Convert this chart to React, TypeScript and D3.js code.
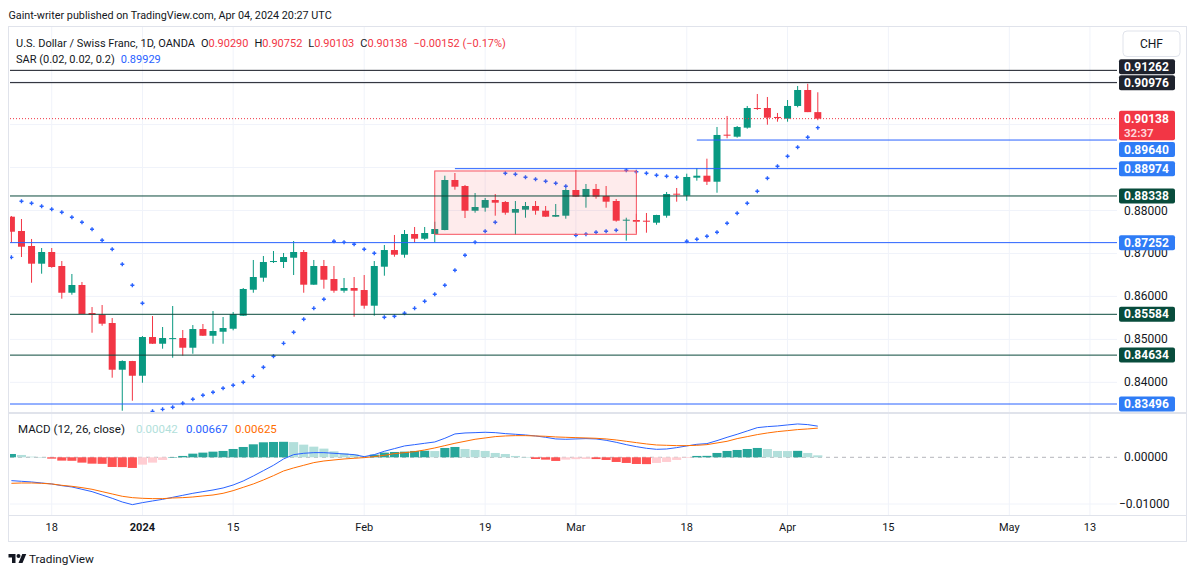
import { useEffect } from "react";
import * as d3 from "d3";

// ---------------------------------------------------------------------------
// Data
// ---------------------------------------------------------------------------

const FIRST_SESSION = "2023-12-12";
const HOLIDAYS = ["2023-12-25", "2024-01-01"];

// [open, high, low, close]
const OHLC: [number, number, number, number][] = [
  [0.87856, 0.87872, 0.8725, 0.87506], [0.87523, 0.87802, 0.86917, 0.87157],
  [0.87174, 0.87337, 0.86319, 0.86762], [0.86762, 0.87127, 0.86529, 0.87034],
  [0.87034, 0.87127, 0.86668, 0.86685], [0.86708, 0.86824, 0.85947, 0.86086],
  [0.86086, 0.86522, 0.8604, 0.86266], [0.86266, 0.86336, 0.85588, 0.85591],
  [0.85614, 0.85753, 0.85155, 0.85574], [0.8558, 0.858, 0.85318, 0.85365],
  [0.85381, 0.85497, 0.84108, 0.84294], [0.84294, 0.84513, 0.83339, 0.84496],
  [0.84496, 0.845, 0.83572, 0.84154], [0.84154, 0.85078, 0.83991, 0.85055],
  [0.85055, 0.85544, 0.84895, 0.84899], [0.84899, 0.85288, 0.84783, 0.85032],
  [0.85016, 0.85777, 0.84573, 0.8503], [0.85032, 0.85218, 0.8462, 0.84806],
  [0.84806, 0.85334, 0.84666, 0.85241], [0.85241, 0.85358, 0.8508, 0.85085],
  [0.85085, 0.8566, 0.84899, 0.85195], [0.85178, 0.85521, 0.84899, 0.85265],
  [0.85248, 0.85637, 0.85211, 0.85584], [0.85551, 0.86196, 0.85545, 0.86173],
  [0.86156, 0.86848, 0.86086, 0.86452], [0.86436, 0.86941, 0.86342, 0.86801],
  [0.86801, 0.87057, 0.86778, 0.86824], [0.86801, 0.87011, 0.86661, 0.86917],
  [0.86901, 0.8729, 0.86498, 0.87034], [0.87034, 0.8708, 0.86086, 0.86273],
  [0.86273, 0.86848, 0.8627, 0.86708], [0.86708, 0.86848, 0.8618, 0.86389],
  [0.86405, 0.86708, 0.86086, 0.86133], [0.86133, 0.86429, 0.86086, 0.86196],
  [0.86196, 0.86452, 0.85528, 0.86133], [0.86149, 0.86498, 0.85714, 0.85784],
  [0.85784, 0.86824, 0.85551, 0.86708], [0.86692, 0.87197, 0.86482, 0.8708],
  [0.8708, 0.8743, 0.86924, 0.86971], [0.86971, 0.87546, 0.86901, 0.87453],
  [0.87453, 0.87616, 0.8725, 0.87344], [0.87344, 0.87616, 0.87313, 0.87476],
  [0.87453, 0.87739, 0.8726, 0.87569], [0.87546, 0.8881, 0.8754, 0.8871],
  [0.8871, 0.88873, 0.88484, 0.88554], [0.8857, 0.88594, 0.87825, 0.87995],
  [0.87995, 0.88407, 0.87949, 0.88081], [0.88065, 0.88291, 0.87972, 0.88244],
  [0.88244, 0.88384, 0.87879, 0.88182], [0.88198, 0.88221, 0.87902, 0.87949],
  [0.87949, 0.88221, 0.87437, 0.88035], [0.88019, 0.88198, 0.87832, 0.88105],
  [0.88105, 0.88221, 0.87902, 0.87995], [0.87995, 0.88105, 0.8785, 0.87856],
  [0.87856, 0.88151, 0.8785, 0.87895], [0.87879, 0.88517, 0.87809, 0.88477],
  [0.88477, 0.88943, 0.88315, 0.88321], [0.88321, 0.88617, 0.88065, 0.88501],
  [0.88501, 0.88617, 0.88275, 0.88321], [0.88338, 0.8857, 0.88065, 0.88205],
  [0.88221, 0.88268, 0.87739, 0.87763], [0.87763, 0.87832, 0.87297, 0.87786],
  [0.87779, 0.87926, 0.87483, 0.87739], [0.87763, 0.87942, 0.87483, 0.87739],
  [0.87716, 0.879, 0.87669, 0.87895], [0.87879, 0.88431, 0.87832, 0.88384],
  [0.88391, 0.88524, 0.88205, 0.88377], [0.88345, 0.88857, 0.88228, 0.8878],
  [0.88764, 0.88989, 0.88694, 0.8881], [0.8881, 0.89206, 0.88594, 0.8867],
  [0.8867, 0.89944, 0.88414, 0.89758], [0.89765, 0.902, 0.89681, 0.89741],
  [0.89718, 0.89967, 0.89695, 0.89944], [0.89928, 0.90433, 0.89904, 0.90386],
  [0.90386, 0.90712, 0.9034, 0.90363], [0.90386, 0.90642, 0.89997, 0.9016],
  [0.90177, 0.9027, 0.90067, 0.90153], [0.90137, 0.90572, 0.90067, 0.90433],
  [0.90433, 0.90898, 0.90402, 0.90805], [0.90805, 0.9095, 0.9029, 0.9029],
  [0.9029, 0.90752, 0.90103, 0.90138],
];

const SAR = [
  0.8691, 0.88214, 0.88168, 0.88098, 0.88028, 0.87958, 0.87842, 0.87725, 0.87562, 0.87306,
  0.87097, 0.86748, 0.86259, 0.8584, 0.83325, 0.83372, 0.83419, 0.83512, 0.83605, 0.83698,
  0.83768, 0.83861, 0.83931, 0.84001, 0.8414, 0.8435, 0.84606, 0.84908, 0.85165, 0.85467,
  0.85723, 0.85933, 0.87283, 0.8726, 0.87213, 0.87097, 0.87004, 0.85514, 0.85537, 0.85607,
  0.85723, 0.85886, 0.86049, 0.86259, 0.86608, 0.86957, 0.8726, 0.87516, 0.87725, 0.88866,
  0.88843, 0.88773, 0.88726, 0.8868, 0.88633, 0.88563, 0.87423, 0.87446, 0.87492, 0.87516,
  0.87539, 0.88936, 0.88903, 0.88866, 0.88819, 0.88796, 0.88773, 0.87283, 0.8733, 0.87399,
  0.87492, 0.87702, 0.87935, 0.88168, 0.88447, 0.8875, 0.89029, 0.89262, 0.89471, 0.89704,
  0.89929,
];

const MACD_LINE = [
  -0.005, -0.00514, -0.00528, -0.0055, -0.00571, -0.00607, -0.00635, -0.00685, -0.00735, -0.00807,
  -0.00878, -0.00957, -0.01014, -0.00971, -0.00935, -0.009, -0.00857, -0.00814, -0.00771, -0.00735,
  -0.007, -0.00657, -0.00593, -0.00507, -0.004, -0.00286, -0.00171, -0.00036, 0.00057, 0.00086,
  0.001, 0.001, 0.00086, 0.00071, 0.00057, 0.00014, 0.00057, 0.00129, 0.00186, 0.00243,
  0.00271, 0.003, 0.00328, 0.00407, 0.005, 0.00521, 0.00528, 0.00536, 0.00528, 0.00507,
  0.00493, 0.00478, 0.00457, 0.00428, 0.00393, 0.00386, 0.00393, 0.004, 0.00393, 0.00364,
  0.00321, 0.00271, 0.00228, 0.00193, 0.00171, 0.00178, 0.00207, 0.00243, 0.00278, 0.00293,
  0.00357, 0.00428, 0.00493, 0.00564, 0.00635, 0.00657, 0.00671, 0.00693, 0.00714, 0.007,
  0.00667,
];

const SIGNAL_LINE = [
  -0.00557, -0.0055, -0.0055, -0.00557, -0.00571, -0.006, -0.00621, -0.0065, -0.00685, -0.00735,
  -0.00785, -0.00835, -0.00864, -0.00878, -0.00885, -0.00885, -0.00871, -0.00864, -0.0085, -0.00828,
  -0.00807, -0.00771, -0.00714, -0.00643, -0.00571, -0.00486, -0.00393, -0.00293, -0.00228, -0.00171,
  -0.00114, -0.00079, -0.00057, -0.00036, -0.00021, -0.00007, 0.00014, 0.00043, 0.00079, 0.001,
  0.00121, 0.00157, 0.002, 0.0025, 0.003, 0.00343, 0.00386, 0.00414, 0.00443, 0.00457,
  0.00464, 0.00464, 0.00457, 0.0045, 0.00436, 0.00428, 0.00421, 0.00414, 0.00407, 0.00393,
  0.00371, 0.00343, 0.00314, 0.00286, 0.00264, 0.00257, 0.0025, 0.0025, 0.00257, 0.00271,
  0.00307, 0.00343, 0.004, 0.00443, 0.00486, 0.00521, 0.0055, 0.00571, 0.00593, 0.00607,
  0.00625,
];

const HISTOGRAM = [
  0.00071, 0.0005, 0.00014, 0.00005, -0.00029, -0.00071, -0.00075, -0.00114, -0.00136, -0.0014,
  -0.00207, -0.0021, -0.00228, -0.00157, -0.00114, -0.00057, 0.00005, 0.00029, 0.00078, 0.001,
  0.00121, 0.00136, 0.00178, 0.00221, 0.00278, 0.00321, 0.00328, 0.00332, 0.00325, 0.00271,
  0.00228, 0.00186, 0.00128, 0.00086, 0.00064, 0.00029, 0.00057, 0.001, 0.00114, 0.00121,
  0.00136, 0.0014, 0.00134, 0.002, 0.00221, 0.00178, 0.00157, 0.00136, 0.00093, 0.00071,
  0.00029, 0.00007, -0.00036, -0.0005, -0.00078, -0.0005, -0.0004, -0.00036, -0.00038, -0.00057,
  -0.001, -0.00121, -0.00143, -0.00146, -0.00121, -0.001, -0.00057, -0.00014, 0.00029, 0.00031,
  0.00093, 0.00136, 0.00157, 0.00178, 0.002, 0.00178, 0.00136, 0.00134, 0.00138, 0.00093,
  0.00042,
];

const PRICE_TICKS = [0.84, 0.85, 0.86, 0.87, 0.88, 0.89, 0.9, 0.91];
const MACD_TICKS = [0, -0.01];

const TIME_TICKS: [string, string][] = [
  ["2023-12-18", "18"], ["2024-01-02", "2024"], ["2024-01-15", "15"],
  ["2024-02-01", "Feb"], ["2024-02-19", "19"], ["2024-03-01", "Mar"],
  ["2024-03-18", "18"], ["2024-04-01", "Apr"], ["2024-04-15", "15"],
  ["2024-05-01", "May"], ["2024-05-13", "13"],
];

// horizontal rays drawn by the author (from = first session, null = full width)
const LEVELS: { price: number; kind: string; from: string | null }[] = [
  { price: 0.91262, kind: "black", from: null },
  { price: 0.90976, kind: "black", from: null },
  { price: 0.8964, kind: "blue", from: "2024-03-19" },
  { price: 0.88974, kind: "blue", from: "2024-02-14" },
  { price: 0.88338, kind: "green", from: null },
  { price: 0.87252, kind: "blue", from: null },
  { price: 0.85584, kind: "green", from: null },
  { price: 0.84634, kind: "green", from: null },
  { price: 0.83496, kind: "blue", from: null },
];

const RANGE_BOX = { from: "2024-02-12", to: "2024-03-11", top: 0.8892, bottom: 0.87446 };
const COUNTDOWN = "32:37";

// ---------------------------------------------------------------------------
// Style / layout
// ---------------------------------------------------------------------------

const W = 1195;
const H = 577;
const FONT = "Roboto, 'Noto Sans', sans-serif";
const TEXT = "#131722";
const GRID = "#f0f3fa";
const BORDER = "#e0e3eb";
const UP = "#089981";
const DOWN = "#f23645";
const BLUE = "#2962ff";
const ORANGE = "#ff6d00";
const KIND_COLOR: Record<string, string> = { black: "#131722", blue: "#2962ff", green: "#0b4a3c" };
const BADGE_COLOR: Record<string, string> = { black: "#1e222d", blue: "#2f7cf6", green: "#084c3c" };
// vertical nudges TradingView applied to avoid overlapping axis labels
const BADGE_NUDGE: Record<number, number> = { 0.91262: -3.7, 0.8964: 9.5 };

const PANE = { left: 10, right: 1117 };
const PRICE_PANE = { top: 27, bottom: 412 };
const MACD_PANE = { top: 414, bottom: 515 };
const AXIS_X = 1124;

function buildSessions(start: string, n: number, holidays: string[]): string[] {
  const out: string[] = [];
  const d = new Date(start + "T00:00:00Z");
  while (out.length < n) {
    const key = d.toISOString().slice(0, 10);
    const wd = d.getUTCDay();
    if (wd !== 0 && wd !== 6 && !holidays.includes(key)) out.push(key);
    d.setUTCDate(d.getUTCDate() + 1);
  }
  return out;
}

const SESSIONS = buildSessions(FIRST_SESSION, 130, HOLIDAYS);
const idx = (date: string) => SESSIONS.indexOf(date);

const x = d3.scaleLinear().domain([0, OHLC.length - 1]).range([11.4, 817.8]);
const y = d3.scaleLinear().domain([0.84, 0.88]).range([382.35, 210.5]);
const ym = d3.scaleLinear().domain([-0.01, 0]).range([504, 457.3]);

const step = x(1) - x(0);
const fmt = (v: number) => v.toFixed(5);
const signed = (v: number) => (v < 0 ? "\u2212" : "") + Math.abs(v).toFixed(5);

function histColor(i: number) {
  const v = HISTOGRAM[i];
  const prev = i > 0 ? HISTOGRAM[i - 1] : v;
  if (v >= 0) return v >= prev ? "#26a69a" : "#b2dfdb";
  return v <= prev ? "#ff5252" : "#ffcdd2";
}

export default function App() {
  useEffect(() => {
    document.body.style.margin = "0";
  }, []);

  const last = OHLC[OHLC.length - 1];
  const prevClose = OHLC[OHLC.length - 2][3];
  const chg = last[3] - prevClose;
  const chgPct = (chg / prevClose) * 100;
  const lastI = OHLC.length - 1;
  const lastY = y(last[3]);

  const macdPath = d3.line<number>().x((_, i) => x(i)).y((v) => ym(v))(MACD_LINE) ?? "";
  const signalPath = d3.line<number>().x((_, i) => x(i)).y((v) => ym(v))(SIGNAL_LINE) ?? "";

  const badges = LEVELS.map((l) => ({
    price: l.price,
    kind: l.kind,
    cy: y(l.price) + (BADGE_NUDGE[l.price] ?? 0),
  }));

  // TradingView hides tick labels that sit under a badge
  const visibleTicks = PRICE_TICKS.filter((t) => {
    const ty = y(t);
    if (ty > PRICE_PANE.bottom) return false;
    if (ty > lastY - 10 && ty < lastY + 24) return false;
    return badges.every((b) => Math.abs(b.cy - ty) > 10);
  });

  return (
    <svg
      width={W}
      height={H}
      style={{ position: "fixed", left: 0, top: 0, background: "#fff" }}
      fontFamily={FONT}
    >
      <defs>
        <clipPath id="pricePane">
          <rect x={PANE.left} y={PRICE_PANE.top} width={PANE.right - PANE.left} height={PRICE_PANE.bottom - PRICE_PANE.top} />
        </clipPath>
        <clipPath id="macdPane">
          <rect x={PANE.left} y={MACD_PANE.top} width={PANE.right - PANE.left} height={MACD_PANE.bottom - MACD_PANE.top} />
        </clipPath>
      </defs>
      <rect width={W} height={H} fill="#fff" />

      {/* Header */}
      <text x={8.5} y={15} fontSize={10.8} fill={TEXT} dominantBaseline="central">
        Gaint-writer published on TradingView.com, Apr 04, 2024 20:27 UTC
      </text>

      {/* Frame */}
      <rect x={8.5} y={26.5} width={1178} height={515} fill="none" stroke={BORDER} />
      <line x1={8.5} x2={1186.5} y1={413} y2={413} stroke={BORDER} strokeWidth={2} />
      <line x1={8.5} x2={1186.5} y1={515.5} y2={515.5} stroke={BORDER} />

      {/* Grid */}
      {TIME_TICKS.map(([d]) => (
        <line key={d} x1={x(idx(d))} x2={x(idx(d))} y1={27} y2={412} stroke={GRID} />
      ))}
      {TIME_TICKS.map(([d]) => (
        <line key={"m" + d} x1={x(idx(d))} x2={x(idx(d))} y1={414} y2={515} stroke={GRID} />
      ))}
      {PRICE_TICKS.map((t) => (
        <line key={t} x1={PANE.left} x2={PANE.right} y1={y(t)} y2={y(t)} stroke={GRID} />
      ))}
      <line x1={PANE.left} x2={PANE.right} y1={ym(-0.01)} y2={ym(-0.01)} stroke={GRID} />

      {/* Price pane */}
      <g clipPath="url(#pricePane)">
        {OHLC.map(([o, h, l, c], i) => {
          const col = c >= o ? UP : DOWN;
          const top = y(Math.max(o, c));
          const bh = Math.max(1, y(Math.min(o, c)) - top);
          return (
            <g key={i}>
              <line x1={x(i)} x2={x(i)} y1={y(h)} y2={y(l)} stroke={col} strokeWidth={1} />
              <rect x={x(i) - 3.5} y={top} width={7} height={bh} fill={col} />
            </g>
          );
        })}

        {/* Parabolic SAR */}
        {SAR.map((v, i) => (
          <path
            key={i}
            d={`M${x(i) - 2},${y(v)}h4M${x(i)},${y(v) - 2}v4`}
            stroke={BLUE}
            strokeWidth={1.4}
          />
        ))}

        {/* Range box */}
        <rect
          x={x(idx(RANGE_BOX.from))}
          y={y(RANGE_BOX.top)}
          width={x(idx(RANGE_BOX.to)) - x(idx(RANGE_BOX.from))}
          height={y(RANGE_BOX.bottom) - y(RANGE_BOX.top)}
          fill="rgba(242,54,69,0.1)"
          stroke="#f7525f"
          strokeWidth={1}
        />

        {/* Levels */}
        {LEVELS.map((l) => (
          <line
            key={l.price}
            x1={l.from ? x(idx(l.from)) : PANE.left}
            x2={PANE.right}
            y1={y(l.price)}
            y2={y(l.price)}
            stroke={KIND_COLOR[l.kind]}
            strokeWidth={1}
          />
        ))}

        {/* Last price line */}
        <line x1={PANE.left} x2={PANE.right} y1={lastY} y2={lastY} stroke={DOWN} strokeDasharray="1 2" />
      </g>

      {/* MACD pane */}
      <g clipPath="url(#macdPane)">
        <line
          x1={PANE.left}
          x2={PANE.right}
          y1={ym(0)}
          y2={ym(0)}
          stroke="#9598a1"
          strokeDasharray="4 4"
          opacity={0.7}
        />
        {HISTOGRAM.map((v, i) => (
          <rect
            key={i}
            x={x(i) - step / 2 + 0.5}
            y={Math.min(ym(v), ym(0))}
            width={step - 1}
            height={Math.max(0.5, Math.abs(ym(v) - ym(0)))}
            fill={histColor(i)}
          />
        ))}
        <path d={macdPath} fill="none" stroke={BLUE} strokeWidth={1} />
        <path d={signalPath} fill="none" stroke={ORANGE} strokeWidth={1} />
      </g>

      {/* Legends */}
      <text x={16} y={42.7} fontSize={11} dominantBaseline="central" fill={TEXT}>
        <tspan>U.S. Dollar / Swiss Franc, 1D, OANDA</tspan>
        <tspan dx={6}>O</tspan>
        <tspan fill={DOWN}>{fmt(last[0])}</tspan>
        <tspan dx={6}>H</tspan>
        <tspan fill={DOWN}>{fmt(last[1])}</tspan>
        <tspan dx={6}>L</tspan>
        <tspan fill={DOWN}>{fmt(last[2])}</tspan>
        <tspan dx={6}>C</tspan>
        <tspan fill={DOWN}>{fmt(last[3])}</tspan>
        <tspan dx={6} fill={DOWN}>
          {signed(chg)} ({chgPct < 0 ? "\u2212" : ""}{Math.abs(chgPct).toFixed(2)}%)
        </tspan>
      </text>
      <text x={16} y={58.7} fontSize={11} dominantBaseline="central" fill={TEXT}>
        <tspan>SAR (0.02, 0.02, 0.2)</tspan>
        <tspan dx={6} fill={BLUE}>{fmt(SAR[lastI])}</tspan>
      </text>
      <text y={429} fontSize={11.5} dominantBaseline="central" fill={TEXT}>
        <tspan x={18}>MACD (12, 26, close)</tspan>
        <tspan x={136} fill={histColor(lastI)}>{fmt(HISTOGRAM[lastI])}</tspan>
        <tspan x={186} fill={BLUE}>{fmt(MACD_LINE[lastI])}</tspan>
        <tspan x={235} fill={ORANGE}>{fmt(SIGNAL_LINE[lastI])}</tspan>
      </text>

      {/* CHF button */}
      <rect x={1123} y={31} width={57} height={25.5} rx={4} fill="#fff" stroke={BORDER} />
      <text x={1151.5} y={44} fontSize={12} textAnchor="middle" dominantBaseline="central" fill={TEXT}>
        CHF
      </text>

      {/* Price axis ticks */}
      {visibleTicks.map((t) => (
        <text key={t} x={AXIS_X} y={y(t)} fontSize={12} dominantBaseline="central" fill={TEXT}>
          {t.toFixed(5)}
        </text>
      ))}
      {MACD_TICKS.map((t) => (
        <text key={t} x={t < 0 ? 1119 : AXIS_X} y={ym(t)} fontSize={12} dominantBaseline="central" fill={TEXT}>
          {signed(t)}
        </text>
      ))}

      {/* Level badges */}
      {badges.map((b) => (
        <g key={b.price}>
          <rect x={1119} y={b.cy - 7.5} width={56} height={15} rx={2} fill={BADGE_COLOR[b.kind]} />
          <text x={AXIS_X} y={b.cy} fontSize={12} fontWeight={700} dominantBaseline="central" fill="#fff">
            {fmt(b.price)}
          </text>
        </g>
      ))}

      {/* Last price badge with countdown */}
      <rect x={1119} y={lastY - 8} width={56} height={29.5} rx={2} fill={DOWN} />
      <text x={AXIS_X} y={lastY + 0.5} fontSize={12} fontWeight={700} dominantBaseline="central" fill="#fff">
        {fmt(last[3])}
      </text>
      <text x={AXIS_X} y={lastY + 14.5} fontSize={11.5} fontWeight={700} dominantBaseline="central" fill="#ffd6da">
        {COUNTDOWN}
      </text>

      {/* Time axis */}
      {TIME_TICKS.map(([d, label]) => (
        <text
          key={d}
          x={x(idx(d))}
          y={527.5}
          fontSize={11}
          fontWeight={label.length === 4 ? 700 : 400}
          textAnchor="middle"
          dominantBaseline="central"
          fill={TEXT}
        >
          {label}
        </text>
      ))}

      {/* Footer logo */}
      <g transform="translate(8.5,552) scale(0.5)" fill={TEXT}>
        <path d="M14 22H7V11H0V4h14v18zM28 22h-8l7.5-18h8L28 22z" />
        <circle cx={20} cy={8} r={4} />
      </g>
      <text x={29} y={558.5} fontSize={11.8} dominantBaseline="central" fill={TEXT}>
        TradingView
      </text>
    </svg>
  );
}
